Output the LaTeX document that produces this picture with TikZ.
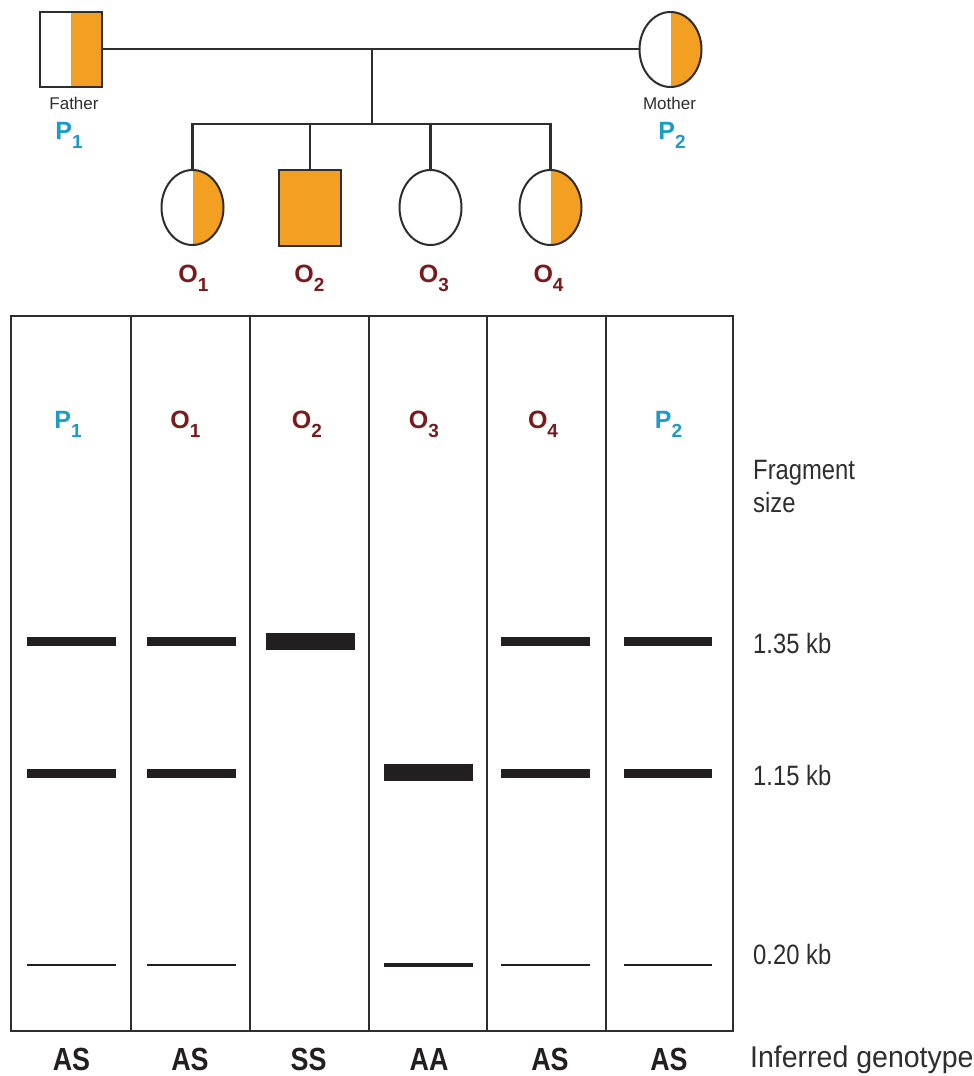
\documentclass[tikz,border=0pt]{standalone}
\usepackage{fontspec}
\usepackage{graphicx}
\setmainfont{Liberation Sans}
\usetikzlibrary{shapes.geometric,calc}
\definecolor{ped}{HTML}{F29F22}
\definecolor{pcol}{HTML}{1A9BC9}
\definecolor{ocol}{HTML}{7A1A1A}
\definecolor{ink}{HTML}{2E2E2E}
\definecolor{band}{HTML}{231F20}
\newcommand{\lab}[2]{{\fontsize{25}{25}\selectfont\bfseries #1}\raisebox{-9pt}{\fontsize{19}{19}\selectfont\bfseries #2}}
\newcommand{\rtext}[1]{\scalebox{0.85}[1]{\fontsize{28}{28}\selectfont #1}}
\newcommand{\gtext}[1]{\scalebox{0.84}[1]{\fontsize{32}{32}\selectfont\bfseries #1}}
\tikzset{
  pline/.style={draw=ink, line width=2.1pt},
  halfsq/.style={rectangle, draw=ink, line width=2pt, minimum width=62pt, minimum height=75pt, inner sep=0pt,
    path picture={\fill[ped] (path picture bounding box.north) rectangle (path picture bounding box.south east);}},
  fullsq/.style={rectangle, draw=ink, fill=ped, line width=2pt, minimum width=62pt, minimum height=76pt, inner sep=0pt},
  halfci/.style={ellipse, draw=ink, line width=2pt, minimum width=62pt, minimum height=75pt, inner sep=0pt,
    path picture={\fill[ped] (path picture bounding box.north) rectangle (path picture bounding box.south east);}},
  emptyci/.style={ellipse, draw=ink, line width=2pt, minimum width=62pt, minimum height=75pt, inner sep=0pt},
  plab/.style={anchor=base, text=pcol, inner sep=0pt},
  olab/.style={anchor=base, text=ocol, inner sep=0pt},
  small/.style={anchor=base, text=ink, inner sep=0pt, font=\fontsize{17}{17}\selectfont},
  rlab/.style={anchor=base west, text=ink, inner sep=0pt},
  glab/.style={anchor=base, text=band, inner sep=0pt},
  gel/.style={draw=ink, line width=2pt},
  bnorm/.style={fill=band},
}
\begin{document}
\begin{tikzpicture}[x=1pt,y=-1pt]
\useasboundingbox (0,0) rectangle (974,1076);
\fill[white] (0,0) rectangle (974,1076);
% pedigree
\node[halfsq] (father) at (71,49.5) {};
\node[halfci] (mother) at (670.5,49.5) {};
\node[small] (fathert) at (74,109) {Father};
\node[small] (mothert) at (669.5,109) {Mother};
\node[plab] (p1t) at (69,139) {\lab{P}{1}};
\node[plab] (p2t) at (672,139) {\lab{P}{2}};
\coordinate (mid) at (372,49);
\coordinate (sib) at (372,124);
\draw[pline] (father.east |- mid) -- (mother.west |- mid);
\draw[pline] (mid) -- (sib);
\node[halfci] (o1) at (192.5,207.5) {};
\node[fullsq] (o2) at (310,208) {};
\node[emptyci] (o3) at (430.5,207.5) {};
\node[halfci] (o4) at (550.5,207.5) {};
\draw[pline] (o1.north) |- (sib);
\draw[pline] (o4.north) |- (sib);
\draw[pline] (o2.north) -- (o2.north |- sib);
\draw[pline] (o3.north) -- (o3.north |- sib);
\node[olab] (o1t) at (193.5,282) {\lab{O}{1}};
\node[olab] (o2t) at (309.5,282) {\lab{O}{2}};
\node[olab] (o3t) at (434,282) {\lab{O}{3}};
\node[olab] (o4t) at (548.5,282) {\lab{O}{4}};
% gel
\draw[gel] (11,316) rectangle (733,1031);
\foreach \x in {131,250,369,487,606} \draw[gel] (\x,316) -- (\x,1031);
\node[plab] (g1) at (68,428) {\lab{P}{1}};
\node[olab] (g2) at (185.5,428) {\lab{O}{1}};
\node[olab] (g3) at (307,428) {\lab{O}{2}};
\node[olab] (g4) at (424,428) {\lab{O}{3}};
\node[olab] (g5) at (543,428) {\lab{O}{4}};
\node[plab] (g6) at (668.5,428) {\lab{P}{2}};
% bands 1.35 kb
\foreach \a/\b in {27/116,147/236,501/590,624/712} \fill[bnorm] (\a,637) rectangle (\b,646);
\fill[bnorm] (266,633) rectangle (355,650);
% bands 1.15 kb
\foreach \a/\b in {27/116,147/236,501/590,624/712} \fill[bnorm] (\a,769) rectangle (\b,777.5);
\fill[bnorm] (384,764) rectangle (473,781);
% bands 0.20 kb
\foreach \a/\b in {27/116,147/236,501/590,624/712} \fill[bnorm] (\a,964) rectangle (\b,966);
\fill[bnorm] (384,963) rectangle (473,967);
% right labels
\node[rlab] (frag) at (753,479) {\rtext{Fragment}};
\node[rlab] (size) at (753,512) {\rtext{size}};
\node[rlab] (k135) at (753,653) {\rtext{1.35 kb}};
\node[rlab] (k115) at (753,785) {\rtext{1.15 kb}};
\node[rlab] (k020) at (753,964) {\rtext{0.20 kb}};
\node[rlab] (inf) at (750,1067) {\scalebox{0.95}[1]{\fontsize{30}{30}\selectfont Inferred genotype}};
% genotypes
\node[glab] (ge1) at (71.5,1070) {\gtext{AS}};
\node[glab] (ge2) at (190,1070) {\gtext{AS}};
\node[glab] (ge3) at (308.5,1070) {\gtext{SS}};
\node[glab] (ge4) at (429,1070) {\gtext{AA}};
\node[glab] (ge5) at (550,1070) {\gtext{AS}};
\node[glab] (ge6) at (669,1070) {\gtext{AS}};
\end{tikzpicture}
\end{document}
